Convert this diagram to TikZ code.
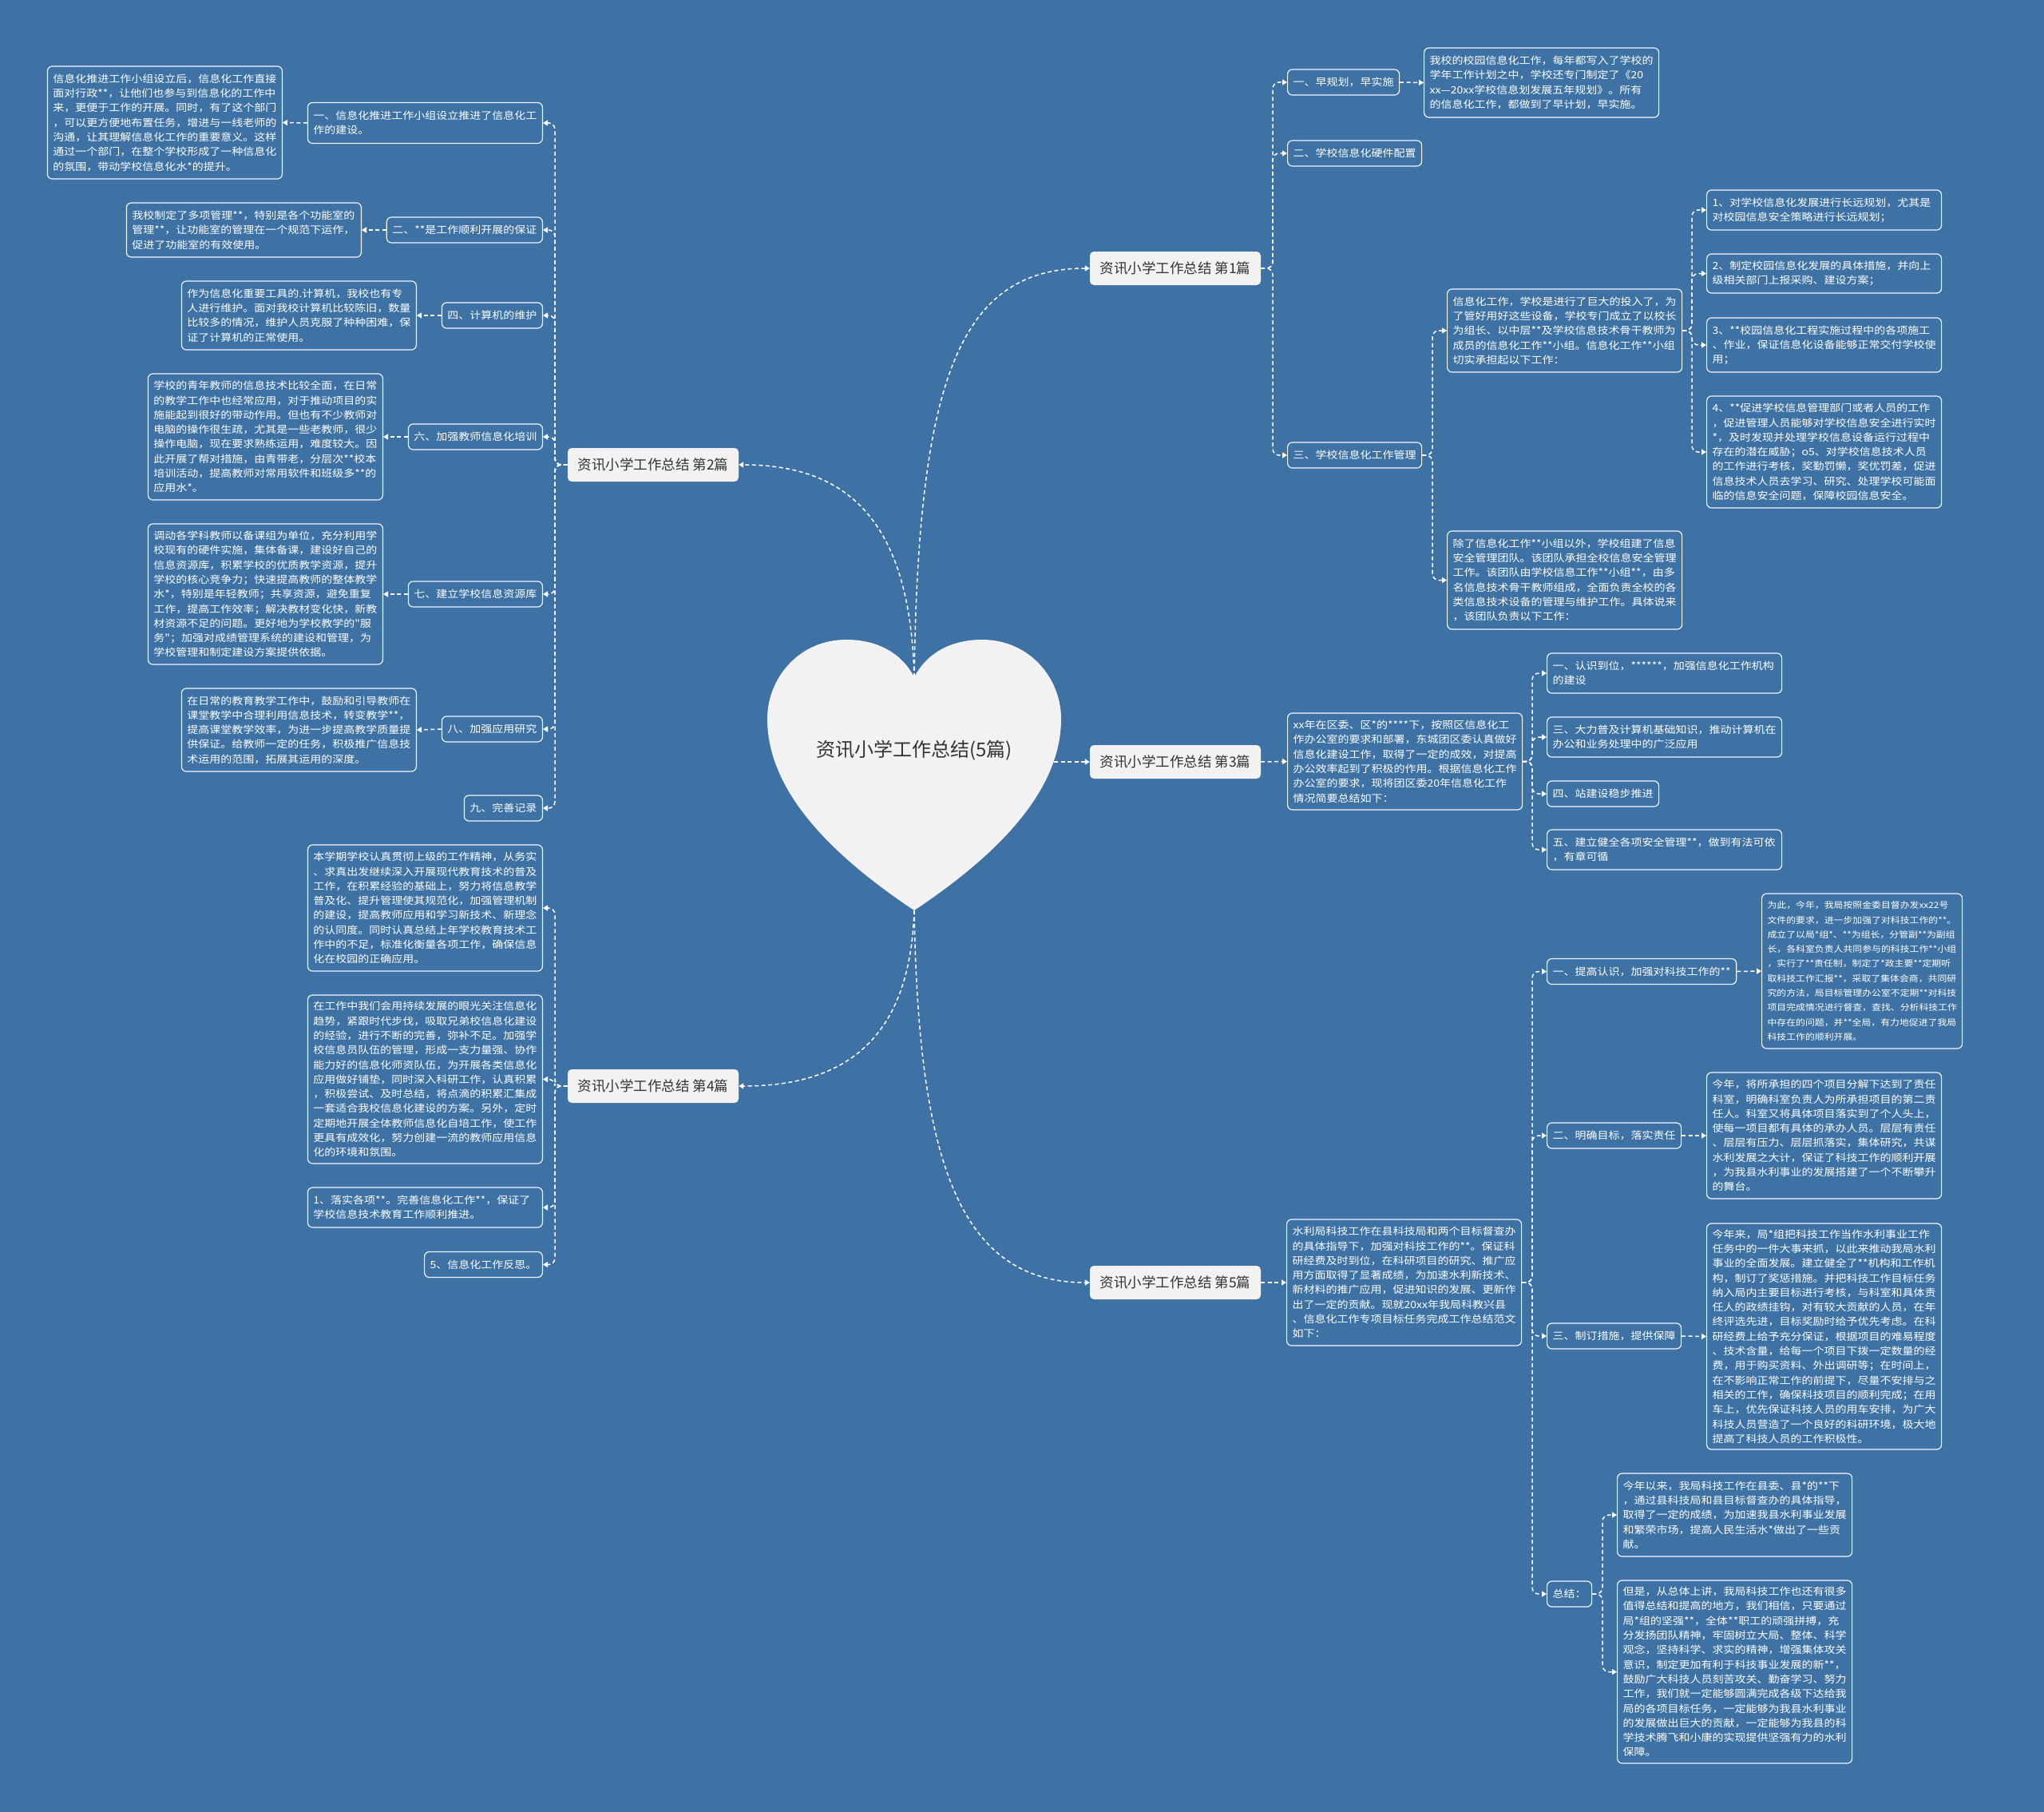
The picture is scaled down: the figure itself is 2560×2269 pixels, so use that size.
\documentclass[tikz,border=0pt]{standalone}
\usepackage{fontspec}
\setmainfont{Noto Sans CJK SC}
\newfontfamily\boxcjk[FakeStretch=1.12]{Noto Sans CJK SC}
\usetikzlibrary{arrows.meta}
\definecolor{bg}{HTML}{3E72A4}
\definecolor{mainfill}{HTML}{F2F2F2}
\definecolor{maintext}{HTML}{333333}
\definecolor{edge}{HTML}{EEF6FC}
\newcommand\fsz{\boxcjk\fontsize{12.5}{18.3}\selectfont}
\newcommand\fszs{\boxcjk\fontsize{10.6}{18.3}\selectfont}
\newcommand\fmn{\fontsize{17.5}{20}\selectfont}
\begin{document}
\begin{tikzpicture}[x=1pt,y=-1pt,
  box/.style={draw=edge, line width=1.2pt, rounded corners=6pt, text=white, font=\fsz, align=left, inner xsep=7pt, inner ysep=2pt},
  tb/.style={box, text width=280pt, minimum width=294pt},
  sub/.style={box, minimum height=32pt},
  mainnode/.style={fill=mainfill, text=maintext, rounded corners=5pt, font=\fmn, minimum width=214pt, minimum height=42pt, inner sep=0pt},
  conn/.style={draw=white, line width=1.5pt, dash pattern=on 5pt off 3.5pt, -{Triangle[length=6pt,width=7pt]}},
  elb/.style={conn, rounded corners=8pt}]
\useasboundingbox (0,0) rectangle (2560,2269);
\fill[bg] (0,0) rectangle (2560,2269);

% heart
\fill[mainfill] (1145,848) .. controls (1128,815) and (1095,801) .. (1060,801)
  .. controls (1000,801) and (961,850) .. (961,900)
  .. controls (961,990) and (1040,1070) .. (1145,1140)
  .. controls (1250,1070) and (1329,990) .. (1329,900)
  .. controls (1329,850) and (1290,801) .. (1230,801)
  .. controls (1195,801) and (1162,815) .. (1145,848) -- cycle;
\node[text=maintext, font=\fontsize{24}{28}\selectfont] (title) at (1145,940) {资讯小学工作总结(5篇)};
\coordinate (htop) at (1145,848);
\coordinate (hbot) at (1145,1140);
\coordinate (hright) at (1320,954);

% main nodes
\node[mainnode] (m1) at (1472,336) {资讯小学工作总结 第1篇};
\node[mainnode] (m2) at (818,582) {资讯小学工作总结 第2篇};
\node[mainnode] (m3) at (1472,954) {资讯小学工作总结 第3篇};
\node[mainnode] (m4) at (818,1360) {资讯小学工作总结 第4篇};
\node[mainnode] (m5) at (1472,1606) {资讯小学工作总结 第5篇};

\draw[conn] (htop) .. controls (1150,480) and (1200,336) .. (m1.west);
\draw[conn] (htop) .. controls (1140,650) and (1060,582) .. (m2.east);
\draw[conn] (hright) -- (m3.west);
\draw[conn] (hbot) .. controls (1140,1300) and (1060,1360) .. (m4.east);
\draw[conn] (hbot) .. controls (1150,1450) and (1200,1606) .. (m5.west);

% ---------- 第2篇 ----------
\node[box, anchor=east, text width=280pt, minimum height=51pt] (a1) at (680,154) {一、信息化推进工作小组设立推进了信息化工\\作的建设。};
\node[tb, anchor=east, minimum height=141pt] (a1t) at (354,153.5) {信息化推进工作小组设立后，信息化工作直接\\面对行政**，让他们也参与到信息化的工作中\\来，更便于工作的开展。同时，有了这个部门\\，可以更方便地布置任务，增进与一线老师的\\沟通，让其理解信息化工作的重要意义。这样\\通过一个部门，在整个学校形成了一种信息化\\的氛围，带动学校信息化水*的提升。};
\node[sub, anchor=east] (a2) at (680,288) {二、**是工作顺利开展的保证};
\node[tb, anchor=east, minimum height=68pt] (a2t) at (453,288) {我校制定了多项管理**，特别是各个功能室的\\管理**，让功能室的管理在一个规范下运作，\\促进了功能室的有效使用。};
\node[sub, anchor=east] (a4) at (680,395) {四、计算机的维护};
\node[tb, anchor=east, minimum height=86pt] (a4t) at (522,395) {作为信息化重要工具的.计算机，我校也有专\\人进行维护。面对我校计算机比较陈旧，数量\\比较多的情况，维护人员克服了种种困难，保\\证了计算机的正常使用。};
\node[sub, anchor=east] (a6) at (680,547) {六、加强教师信息化培训};
\node[tb, anchor=east, minimum height=158pt] (a6t) at (480,547) {学校的青年教师的信息技术比较全面，在日常\\的教学工作中也经常应用，对于推动项目的实\\施能起到很好的带动作用。但也有不少教师对\\电脑的操作很生疏，尤其是一些老教师，很少\\操作电脑，现在要求熟练运用，难度较大。因\\此开展了帮对措施，由青带老，分层次**校本\\培训活动，提高教师对常用软件和班级多**的\\应用水*。};
\node[sub, anchor=east] (a7) at (680,744) {七、建立学校信息资源库};
\node[tb, anchor=east, minimum height=176pt] (a7t) at (480,744) {调动各学科教师以备课组为单位，充分利用学\\校现有的硬件实施，集体备课，建设好自己的\\信息资源库，积累学校的优质教学资源，提升\\学校的核心竞争力；快速提高教师的整体教学\\水*，特别是年轻教师；共享资源，避免重复\\工作，提高工作效率；解决教材变化快，新教\\材资源不足的问题。更好地为学校教学的"服\\务"；加强对成绩管理系统的建设和管理，为\\学校管理和制定建设方案提供依据。};
\node[sub, anchor=east] (a8) at (680,913) {八、加强应用研究};
\node[tb, anchor=east, minimum height=104pt] (a8t) at (522,914) {在日常的教育教学工作中，鼓励和引导教师在\\课堂教学中合理利用信息技术，转变教学**，\\提高课堂教学效率，为进一步提高教学质量提\\供保证。给教师一定的任务，积极推广信息技\\术运用的范围，拓展其运用的深度。};
\node[sub, anchor=east] (a9) at (680,1012) {九、完善记录};

\foreach \n in {a1,a2,a4,a6,a7,a8,a9}
  \draw[elb] (m2.west) -| ([xshift=15pt]\n.east) -- (\n.east);
\foreach \n in {a1,a2,a4,a6,a7,a8}
  \draw[conn] (\n.west) -- (\n t.east);

% ---------- 第4篇 ----------
\node[tb, anchor=east, minimum height=158pt] (b1) at (680,1137) {本学期学校认真贯彻上级的工作精神，从务实\\、求真出发继续深入开展现代教育技术的普及\\工作，在积累经验的基础上，努力将信息教学\\普及化、提升管理使其规范化，加强管理机制\\的建设，提高教师应用和学习新技术、新理念\\的认同度。同时认真总结上年学校教育技术工\\作中的不足，标准化衡量各项工作，确保信息\\化在校园的正确应用。};
\node[tb, anchor=east, minimum height=211pt] (b2) at (680,1351.5) {在工作中我们会用持续发展的眼光关注信息化\\趋势，紧跟时代步伐，吸取兄弟校信息化建设\\的经验，进行不断的完善，弥补不足。加强学\\校信息员队伍的管理，形成一支力量强、协作\\能力好的信息化师资队伍，为开展各类信息化\\应用做好铺垫，同时深入科研工作，认真积累\\，积极尝试、及时总结，将点滴的积累汇集成\\一套适合我校信息化建设的方案。另外，定时\\定期地开展全体教师信息化自培工作，使工作\\更具有成效化，努力创建一流的教师应用信息\\化的环境和氛围。};
\node[tb, anchor=east, minimum height=50pt] (b3) at (680,1512) {1、落实各项**。完善信息化工作**，保证了\\学校信息技术教育工作顺利推进。};
\node[sub, anchor=east] (b4) at (680,1583.5) {5、信息化工作反思。};
\foreach \n in {b1,b2,b3,b4}
  \draw[elb] (m4.west) -| ([xshift=15pt]\n.east) -- (\n.east);

% ---------- 第1篇 ----------
\node[sub, anchor=west] (c1) at (1612,103) {一、早规划，早实施};
\node[tb, anchor=west, minimum height=87pt] (c1t) at (1783,103.5) {我校的校园信息化工作，每年都写入了学校的\\学年工作计划之中，学校还专门制定了《20\\xx—20xx学校信息划发展五年规划》。所有\\的信息化工作，都做到了早计划，早实施。};
\node[sub, anchor=west] (c2) at (1612,192) {二、学校信息化硬件配置};
\node[sub, anchor=west] (c3) at (1612,570) {三、学校信息化工作管理};
\node[tb, anchor=west, minimum height=104pt] (c3a) at (1812,414) {信息化工作，学校是进行了巨大的投入了，为\\了管好用好这些设备，学校专门成立了以校长\\为组长、以中层**及学校信息技术骨干教师为\\成员的信息化工作**小组。信息化工作**小组\\切实承担起以下工作：};
\node[tb, anchor=west, minimum height=123pt] (c3b) at (1812,726.5) {除了信息化工作**小组以外，学校组建了信息\\安全管理团队。该团队承担全校信息安全管理\\工作。该团队由学校信息工作**小组**，由多\\名信息技术骨干教师组成，全面负责全校的各\\类信息技术设备的管理与维护工作。具体说来\\，该团队负责以下工作：};
\node[tb, anchor=west, minimum height=50pt] (d1) at (2137,263) {1、对学校信息化发展进行长远规划，尤其是\\对校园信息安全策略进行长远规划；};
\node[tb, anchor=west, minimum height=49pt] (d2) at (2137,342.5) {2、制定校园信息化发展的具体措施，并向上\\级相关部门上报采购、建设方案；};
\node[tb, anchor=west, minimum height=68pt] (d3) at (2137,432) {3、**校园信息化工程实施过程中的各项施工\\、作业，保证信息化设备能够正常交付学校使\\用；};
\node[tb, anchor=west, minimum height=140pt] (d4) at (2137,566) {4、**促进学校信息管理部门或者人员的工作\\，促进管理人员能够对学校信息安全进行实时\\**，及时发现并处理学校信息设备运行过程中\\存在的潜在威胁；o5、对学校信息技术人员\\的工作进行考核，奖勤罚懒，奖优罚差，促进\\信息技术人员去学习、研究、处理学校可能面\\临的信息安全问题，保障校园信息安全。};
\foreach \n in {c1,c2,c3}
  \draw[elb] (m1.east) -| ([xshift=-18pt]\n.west) -- (\n.west);
\draw[conn] (c1.east) -- (c1t.west);
\foreach \n in {c3a,c3b}
  \draw[elb] (c3.east) -| ([xshift=-18pt]\n.west) -- (\n.west);
\foreach \n in {d1,d2,d3,d4}
  \draw[elb] (c3a.east) -| ([xshift=-18pt]\n.west) -- (\n.west);

% ---------- 第3篇 ----------
\node[tb, anchor=west, minimum height=121pt] (e) at (1612,953.5) {xx年在区委、区*的****下，按照区信息化工\\作办公室的要求和部署，东城团区委认真做好\\信息化建设工作，取得了一定的成效，对提高\\办公效率起到了积极的作用。根据信息化工作\\办公室的要求，现将团区委20年信息化工作\\情况简要总结如下：};
\node[tb, anchor=west, minimum height=50pt] (e1) at (1937,843) {一、认识到位，******，加强信息化工作机构\\的建设};
\node[tb, anchor=west, minimum height=50pt] (e2) at (1937,923) {三、大力普及计算机基础知识，推动计算机在\\办公和业务处理中的广泛应用};
\node[sub, anchor=west] (e3) at (1937,994) {四、站建设稳步推进};
\node[tb, anchor=west, minimum height=50pt] (e4) at (1937,1064) {五、建立健全各项安全管理**，做到有法可依\\，有章可循};
\draw[conn] (m3.east) -- (e.west);
\foreach \n in {e1,e2,e3,e4}
  \draw[elb] (e.east) -| ([xshift=-18pt]\n.west) -- (\n.west);

% ---------- 第5篇 ----------
\node[tb, anchor=west, minimum height=158pt] (f) at (1611,1606) {水利局科技工作在县科技局和两个目标督查办\\的具体指导下，加强对科技工作的**。保证科\\研经费及时到位，在科研项目的研究、推广应\\用方面取得了显著成绩，为加速水利新技术、\\新材料的推广应用，促进知识的发展、更新作\\出了一定的贡献。现就20xx年我局科教兴县\\、信息化工作专项目标任务完成工作总结范文\\如下：};
\node[sub, anchor=west] (g1) at (1937,1216.5) {一、提高认识，加强对科技工作的**};
\node[box, font=\fszs, anchor=west, text width=237pt, minimum width=251pt, minimum height=194pt] (g1t) at (2206,1216) {为此，今年，我局按照金委目督办发xx22号\\文件的要求，进一步加强了对科技工作的**。\\成立了以局*组*、**为组长，分管副**为副组\\长，各科室负责人共同参与的科技工作**小组\\，实行了**责任制，制定了*政主要**定期听\\取科技工作汇报**，采取了集体会商，共同研\\究的方法，局目标管理办公室不定期**对科技\\项目完成情况进行督查，查找、分析科技工作\\中存在的问题，并**全局，有力地促进了我局\\科技工作的顺利开展。};
\node[sub, anchor=west] (g2) at (1937,1422) {二、明确目标，落实责任};
\node[tb, anchor=west, minimum height=158pt] (g2t) at (2137,1422) {今年，将所承担的四个项目分解下达到了责任\\科室，明确科室负责人为所承担项目的第二责\\任人。科室又将具体项目落实到了个人头上，\\使每一项目都有具体的承办人员。层层有责任\\、层层有压力、层层抓落实，集体研究，共谋\\水利发展之大计，保证了科技工作的顺利开展\\，为我县水利事业的发展搭建了一个不断攀升\\的舞台。};
\node[sub, anchor=west] (g3) at (1937,1673) {三、制订措施，提供保障};
\node[tb, anchor=west, minimum height=283pt] (g3t) at (2137,1673.5) {今年来，局*组把科技工作当作水利事业工作\\任务中的一件大事来抓，以此来推动我局水利\\事业的全面发展。建立健全了**机构和工作机\\构，制订了奖惩措施。并把科技工作目标任务\\纳入局内主要目标进行考核，与科室和具体责\\任人的政绩挂钩，对有较大贡献的人员，在年\\终评选先进，目标奖励时给予优先考虑。在科\\研经费上给予充分保证，根据项目的难易程度\\、技术含量，给每一个项目下拨一定数量的经\\费，用于购买资料、外出调研等；在时间上，\\在不影响正常工作的前提下，尽量不安排与之\\相关的工作，确保科技项目的顺利完成；在用\\车上，优先保证科技人员的用车安排，为广大\\科技人员营造了一个良好的科研环境，极大地\\提高了科技人员的工作积极性。};
\node[sub, anchor=west] (z) at (1937,1996) {总结：};
\node[tb, anchor=west, minimum height=104pt] (s1) at (2025,1897) {今年以来，我局科技工作在县委、县*的**下\\，通过县科技局和县目标督查办的具体指导，\\取得了一定的成绩，为加速我县水利事业发展\\和繁荣市场，提高人民生活水*做出了一些贡\\献。};
\node[tb, anchor=west, minimum height=229pt] (s2) at (2025,2093.5) {但是，从总体上讲，我局科技工作也还有很多\\值得总结和提高的地方，我们相信，只要通过\\局*组的坚强**，全体**职工的顽强拼搏，充\\分发扬团队精神，牢固树立大局、整体、科学\\观念，坚持科学、求实的精神，增强集体攻关\\意识，制定更加有利于科技事业发展的新**，\\鼓励广大科技人员刻苦攻关、勤奋学习、努力\\工作，我们就一定能够圆满完成各级下达给我\\局的各项目标任务，一定能够为我县水利事业\\的发展做出巨大的贡献，一定能够为我县的科\\学技术腾飞和小康的实现提供坚强有力的水利\\保障。};
\draw[conn] (m5.east) -- (f.west);
\foreach \n in {g1,g2,g3,z}
  \draw[elb] (f.east) -| ([xshift=-18pt]\n.west) -- (\n.west);
\foreach \n in {g1,g2,g3}
  \draw[conn] (\n.east) -- (\n t.west);
\foreach \n in {s1,s2}
  \draw[elb] (z.east) -| ([xshift=-18pt]\n.west) -- (\n.west);
\end{tikzpicture}
\end{document}
